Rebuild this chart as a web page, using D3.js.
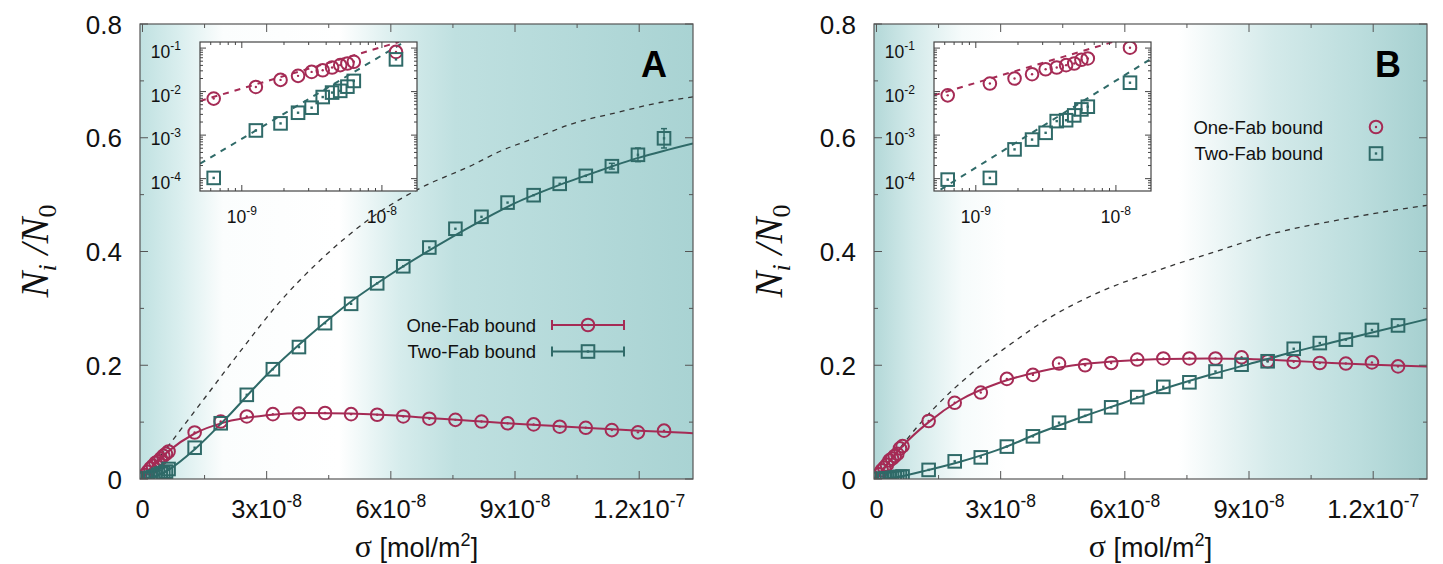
<!DOCTYPE html>
<html><head><meta charset="utf-8">
<script src="https://cdn.jsdelivr.net/npm/d3@7"></script>
<style>body{margin:0;background:#fff} svg{display:block}</style>
</head><body>
<svg id="chart" width="1443" height="564"></svg>
<script>
// ---------------- DATA ----------------
const sigmaSmall = [0.63e-9, 1.26e-9, 1.89e-9, 2.52e-9, 3.15e-9, 3.78e-9, 4.41e-9, 5.04e-9, 5.67e-9, 6.30e-9];
const sigmaLarge = [12.6e-9, 18.9e-9, 25.2e-9, 31.5e-9, 37.8e-9, 44.1e-9, 50.4e-9, 56.7e-9, 63.0e-9, 69.3e-9,
                    75.6e-9, 81.9e-9, 88.2e-9, 94.5e-9, 100.8e-9, 107.1e-9, 113.4e-9, 119.7e-9, 126.0e-9];

const oneFabA = [0.0069, 0.0128, 0.0186, 0.0230, 0.0284, 0.0310, 0.0358, 0.0406, 0.0443, 0.0484,
                 0.0817, 0.101, 0.110, 0.114, 0.115, 0.116, 0.114, 0.113, 0.110, 0.106,
                 0.104, 0.101, 0.098, 0.096, 0.092, 0.090, 0.086, 0.082, 0.085];
const twoFabA = [1.04e-4, 1.28e-3, 1.86e-3, 3.27e-3, 4.27e-3, 7.5e-3, 9.5e-3, 1.04e-2, 1.30e-2, 1.76e-2,
                 0.055, 0.098, 0.148, 0.193, 0.232, 0.274, 0.308, 0.344, 0.374, 0.407,
                 0.440, 0.461, 0.486, 0.499, 0.519, 0.533, 0.550, 0.570, 0.599];
const twoFabAErr = [0,0,0,0,0,0,0,0,0,0,
                    0.002,0.002,0.002,0.003,0.003,0.003,0.003,0.003,0.003,0.003,
                    0.003,0.003,0.003,0.003,0.003,0.003,0.005,0.012,0.017];

const oneFabB = [0.0082, 0.0153, 0.0200, 0.0251, 0.0327, 0.0358, 0.0405, 0.0443, 0.0538, 0.0578,
                 0.102, 0.134, 0.152, 0.176, 0.183, 0.203, 0.200, 0.204, 0.210, 0.212,
                 0.212, 0.212, 0.214, 0.207, 0.206, 0.204, 0.203, 0.205, 0.198];
const twoFabB = [9.5e-5, 1.04e-4, 4.7e-4, 7.9e-4, 1.13e-3, 2.1e-3, 2.2e-3, 2.84e-3, 3.9e-3, 4.5e-3,
                 0.016, 0.031, 0.038, 0.057, 0.075, 0.099, 0.111, 0.126, 0.144, 0.162,
                 0.170, 0.189, 0.201, 0.207, 0.229, 0.239, 0.245, 0.262, 0.270];

// solid fit curves
const fitSigma = [0, 3e-9, 6.3e-9, 12.6e-9, 20e-9, 30e-9, 40e-9, 50e-9, 60e-9, 70e-9, 80e-9, 90e-9, 100e-9, 110e-9, 120e-9, 133e-9];
const fitOneA = [0, 0.027, 0.049, 0.080, 0.100, 0.112, 0.116, 0.115, 0.112, 0.107, 0.102, 0.097, 0.093, 0.089, 0.085, 0.0806];
const fitTwoA = [0, 0.004, 0.016, 0.052, 0.105, 0.183, 0.250, 0.310, 0.360, 0.405, 0.447, 0.485, 0.515, 0.541, 0.565, 0.590];
const fitOneB = [0, 0.030, 0.058, 0.100, 0.138, 0.170, 0.190, 0.202, 0.208, 0.211, 0.212, 0.211, 0.208, 0.204, 0.201, 0.198];
const fitTwoB = [0, 0.001, 0.005, 0.016, 0.030, 0.053, 0.083, 0.110, 0.135, 0.160, 0.182, 0.202, 0.222, 0.240, 0.258, 0.281];

// dashed reference curves (main panels)
const dashSigmaA = [0, 6e-9, 15e-9, 24e-9, 33e-9, 43e-9, 55e-9, 67e-9, 80e-9, 86e-9, 95e-9, 104e-9, 115e-9, 125e-9, 133e-9];
const dashValA   = [0, 0.056, 0.142, 0.228, 0.310, 0.385, 0.458, 0.511, 0.553, 0.575, 0.600, 0.625, 0.645, 0.662, 0.672];
const dashSigmaB = [0, 5e-9, 10e-9, 14e-9, 23e-9, 32e-9, 41e-9, 54e-9, 68e-9, 82e-9, 95e-9, 112e-9, 131e-9, 133e-9];
const dashValB   = [0, 0.048, 0.093, 0.125, 0.186, 0.235, 0.280, 0.329, 0.367, 0.400, 0.430, 0.456, 0.479, 0.481];

// dashed power-law fits in the insets (endpoints)
const insetFitSigmaA1 = [5.03e-10, 1.32e-8], insetFitValA1 = [0.0061, 0.138];
const insetFitSigmaA2 = [5.03e-10, 1.40e-8], insetFitValA2 = [2.2e-4, 0.130];
const insetFitSigmaB1 = [5.03e-10, 1.00e-8], insetFitValB1 = [0.0082, 0.145];
const insetFitSigmaB2 = [5.60e-10, 1.78e-8], insetFitValB2 = [5.6e-5, 0.0566];

// axes / labels
const xTicks = [0, 3e-8, 6e-8, 9e-8, 1.2e-7];
const xTickBase = ["0", "3x10", "6x10", "9x10", "1.2x10"];
const xTickExp  = ["", "-8", "-8", "-8", "-7"];
const yTicks = [0, 0.2, 0.4, 0.6, 0.8];
const yTickLabels = ["0", "0.2", "0.4", "0.6", "0.8"];
const insetXTicks = [1e-9, 1e-8];
const insetXExp = ["-9", "-8"];
const insetYTicks = [1e-4, 1e-3, 1e-2, 1e-1];
const insetYExp = ["-4", "-3", "-2", "-1"];
const seriesNames = ["One-Fab bound", "Two-Fab bound"];
const panelLabels = ["A", "B"];

// ---------------- STYLE ----------------
const RED = "#a52b55", TEAL = "#2f6a68", FRAME = "#555";
const svg = d3.select("#chart");
const defs = svg.append("defs");

function gradient(id, stops) {
  const g = defs.append("linearGradient").attr("id", id).attr("x1", 0).attr("x2", 1).attr("y1", 0).attr("y2", 0);
  stops.forEach(s => g.append("stop").attr("offset", s[0]).attr("stop-color", s[1]));
}
gradient("bgA", [[0, "#c0e1e1"], [0.07, "#d9eeee"], [0.15, "#fbfdfd"], [0.36, "#ffffff"], [0.47, "#d6ecec"], [0.57, "#bfe0e0"], [1, "#a9d3d3"]]);
gradient("bgB", [[0, "#b3d8d8"], [0.07, "#d3eaea"], [0.16, "#f6fbfb"], [0.24, "#ffffff"], [0.55, "#ffffff"], [0.72, "#d4eaea"], [0.88, "#bbdddd"], [1, "#a6d0d0"]]);

function supText(g, x, y, base, exp, size, supSize, anchor, supDy) {
  const t = g.append("text").attr("x", x).attr("y", y).attr("text-anchor", anchor)
    .attr("font-family", "Liberation Sans, Arial, sans-serif").attr("font-size", size).attr("fill", "#111");
  t.append("tspan").text(base);
  if (exp) t.append("tspan").attr("dy", supDy).attr("font-size", supSize).text(exp);
  return t;
}

function circleMarker(g, x, y, color) {
  g.append("circle").attr("cx", x).attr("cy", y).attr("r", 6.3).attr("fill", "none").attr("stroke", color).attr("stroke-width", 2);
  g.append("circle").attr("cx", x).attr("cy", y).attr("r", 1.2).attr("fill", color);
}
function squareMarker(g, x, y, color) {
  g.append("rect").attr("x", x - 6.3).attr("y", y - 6.3).attr("width", 12.6).attr("height", 12.6).attr("fill", "none").attr("stroke", color).attr("stroke-width", 2);
  g.append("rect").attr("x", x - 1.2).attr("y", y - 1.2).attr("width", 2.4).attr("height", 2.4).attr("fill", color);
}

function drawPanel(cfg) {
  const L = cfg.left, R = cfg.left + 553, T = 24, B = 479;
  const g = svg.append("g");
  const x = d3.scaleLinear().domain([-0.6e-9, 1.33e-7]).range([L, R]);
  const y = d3.scaleLinear().domain([0, 0.8]).range([B, T]);
  const clipId = "clip" + cfg.name;
  defs.append("clipPath").attr("id", clipId).append("rect").attr("x", L).attr("y", T).attr("width", R - L).attr("height", B - T);

  g.append("rect").attr("x", L).attr("y", T).attr("width", R - L).attr("height", B - T).attr("fill", `url(#${cfg.bg})`);

  const plot = g.append("g").attr("clip-path", `url(#${clipId})`);
  const line = d3.line().x(d => x(d[0])).y(d => y(d[1])).curve(d3.curveMonotoneX);
  // dashed curve
  plot.append("path").datum(cfg.dashS.map((s, i) => [s, cfg.dashV[i]])).attr("fill", "none")
    .attr("stroke", "#333").attr("stroke-width", 1.3).attr("stroke-dasharray", "5,5").attr("d", line);

  const sig = sigmaSmall.concat(sigmaLarge);
  const series = [
    {vals: cfg.one, fit: cfg.fitOne, err: null, color: RED, marker: circleMarker},
    {vals: cfg.two, fit: cfg.fitTwo, err: cfg.twoErr, color: TEAL, marker: squareMarker}
  ];
  series.forEach(s => {
    plot.append("path").datum(fitSigma.map((v, i) => [v, s.fit[i]])).attr("fill", "none")
      .attr("stroke", s.color).attr("stroke-width", 2).attr("d", line);
  });
  series.forEach(s => {
    sig.forEach((v, i) => {
      const e = s.err ? s.err[i] : 0;
      if (e > 0.004) {
        plot.append("line").attr("x1", x(v)).attr("x2", x(v)).attr("y1", y(s.vals[i] - e)).attr("y2", y(s.vals[i] + e))
          .attr("stroke", s.color).attr("stroke-width", 1.5);
        [s.vals[i] - e, s.vals[i] + e].forEach(yy => plot.append("line").attr("x1", x(v) - 3).attr("x2", x(v) + 3)
          .attr("y1", y(yy)).attr("y2", y(yy)).attr("stroke", s.color).attr("stroke-width", 1.5));
      }
      s.marker(plot, x(v), y(s.vals[i]), s.color);
    });
  });

  // frame + ticks
  const ax = g.append("g").attr("stroke", FRAME).attr("stroke-width", 1);
  d3.range(0, 1.33e-7, 1.5e-8).forEach((t, i) => {
    const len = i % 2 === 0 ? 8 : 4;
    ax.append("line").attr("x1", x(t)).attr("x2", x(t)).attr("y1", B).attr("y2", B - len);
    ax.append("line").attr("x1", x(t)).attr("x2", x(t)).attr("y1", T).attr("y2", T + len);
  });
  d3.range(0, 0.81, 0.1).forEach((t, i) => {
    const len = i % 2 === 0 ? 8 : 4;
    ax.append("line").attr("x1", L).attr("x2", L + len).attr("y1", y(t)).attr("y2", y(t));
    ax.append("line").attr("x1", R).attr("x2", R - len).attr("y1", y(t)).attr("y2", y(t));
  });
  g.append("rect").attr("x", L).attr("y", T).attr("width", R - L).attr("height", B - T)
    .attr("fill", "none").attr("stroke", FRAME).attr("stroke-width", 1.2);

  // tick labels
  xTicks.forEach((t, i) => supText(g, x(t), 518, xTickBase[i], xTickExp[i], 25.5, 17.5, "middle", -11));
  yTicks.forEach((t, i) => supText(g, L - 18, y(t) + 9.5, yTickLabels[i], "", 26, 17, "end", 0));

  // axis titles
  const xt = g.append("text").attr("x", (L + R) / 2).attr("y", 557).attr("text-anchor", "middle")
    .attr("font-family", "Liberation Sans, Arial, sans-serif").attr("font-size", 27).attr("fill", "#111");
  xt.append("tspan").attr("font-family", "Liberation Serif, serif").attr("font-size", 32).text("σ");
  xt.append("tspan").text(" [mol/m");
  xt.append("tspan").attr("dy", -11).attr("font-size", 18).text("2");
  xt.append("tspan").attr("dy", 11).text("]");

  const yt = g.append("text").attr("transform", `translate(${L - 92},251) rotate(-90)`).attr("text-anchor", "middle")
    .attr("font-family", "Liberation Serif, serif").attr("font-style", "italic").attr("font-size", 39).attr("fill", "#111");
  yt.append("tspan").text("N");
  yt.append("tspan").attr("dy", 8).attr("font-size", 26).text("i");
  yt.append("tspan").attr("dy", -8).text(" /N");
  yt.append("tspan").attr("dy", 8).attr("font-size", 26).attr("font-style", "normal").text("0");

  // ---------------- inset ----------------
  const iL = L + 60, iR = L + 277, iT = 42, iB = 191;
  const ix = d3.scaleLog().domain([5.03e-10, 1.78e-8]).range([iL, iR]);
  const iy = d3.scaleLog().domain([5.2e-5, 0.138]).range([iB, iT]);
  const ig = g.append("g");
  ig.append("rect").attr("x", iL).attr("y", iT).attr("width", iR - iL).attr("height", iB - iT).attr("fill", "#fff");
  const iclip = "iclip" + cfg.name;
  defs.append("clipPath").attr("id", iclip).append("rect").attr("x", iL).attr("y", iT).attr("width", iR - iL).attr("height", iB - iT);
  const ip = ig.append("g").attr("clip-path", `url(#${iclip})`);
  cfg.insetFits.forEach(f => {
    ip.append("path").datum(f.s.map((s, i) => [s, f.v[i]])).attr("fill", "none").attr("stroke", f.color).attr("stroke-width", 2)
      .attr("stroke-dasharray", "6,6").attr("d", d3.line().x(d => ix(d[0])).y(d => iy(d[1])));
  });
  const iSig = sigmaSmall.concat([sigmaLarge[0]]);
  iSig.forEach((s, i) => circleMarker(ip, ix(s), iy(cfg.one[i]), RED));
  iSig.forEach((s, i) => squareMarker(ip, ix(s), iy(cfg.two[i]), TEAL));
  const iax = ig.append("g").attr("stroke", "#444").attr("stroke-width", 1);
  ix.ticks().filter(t => t >= 5.03e-10 && t <= 1.78e-8).forEach(t => {
    const major = insetXTicks.some(m => Math.abs(m - t) / m < 1e-6);
    const len = major ? 6 : 3;
    iax.append("line").attr("x1", ix(t)).attr("x2", ix(t)).attr("y1", iB).attr("y2", iB - len);
    iax.append("line").attr("x1", ix(t)).attr("x2", ix(t)).attr("y1", iT).attr("y2", iT + len);
  });
  iy.ticks().filter(t => t >= 5.2e-5 && t <= 0.138).forEach(t => {
    const major = insetYTicks.some(m => Math.abs(m - t) / m < 1e-6);
    const len = major ? 6 : 3;
    iax.append("line").attr("x1", iL).attr("x2", iL + len).attr("y1", iy(t)).attr("y2", iy(t));
    iax.append("line").attr("x1", iR).attr("x2", iR - len).attr("y1", iy(t)).attr("y2", iy(t));
  });
  ig.append("rect").attr("x", iL).attr("y", iT).attr("width", iR - iL).attr("height", iB - iT)
    .attr("fill", "none").attr("stroke", "#444").attr("stroke-width", 1.2);
  insetXTicks.forEach((t, i) => supText(ig, ix(t), 223, "10", insetXExp[i], 17.5, 12, "middle", -8));
  insetYTicks.forEach((t, i) => supText(ig, iL - 19, iy(t) + 10, "10", insetYExp[i], 17.5, 12, "end", -8));

  // panel label
  g.append("text").attr("x", R - 26).attr("y", 77).attr("text-anchor", "end")
    .attr("font-family", "Liberation Sans, Arial, sans-serif").attr("font-weight", "bold").attr("font-size", 36)
    .attr("fill", "#000").text(cfg.label);

  // legend
  const lg = g.append("g");
  seriesNames.forEach((name, i) => {
    const ly = cfg.legend.y + i * 26.5;
    lg.append("text").attr("x", cfg.legend.textEnd).attr("y", ly + 6.5).attr("text-anchor", "end")
      .attr("font-family", "Liberation Sans, Arial, sans-serif").attr("font-size", 18.5).attr("fill", "#111").text(name);
    const col = i === 0 ? RED : TEAL;
    if (cfg.legend.lineKey) {
      const x1 = cfg.legend.keyX - 36, x2 = cfg.legend.keyX + 36;
      lg.append("line").attr("x1", x1).attr("x2", x2).attr("y1", ly).attr("y2", ly).attr("stroke", col).attr("stroke-width", 2);
      [x1, x2].forEach(xx => lg.append("line").attr("x1", xx).attr("x2", xx).attr("y1", ly - 5).attr("y2", ly + 5).attr("stroke", col).attr("stroke-width", 2));
    }
    (i === 0 ? circleMarker : squareMarker)(lg, cfg.legend.keyX, ly, col);
  });
}

drawPanel({name: "A", left: 140, bg: "bgA", label: panelLabels[0],
  one: oneFabA, two: twoFabA, twoErr: twoFabAErr, fitOne: fitOneA, fitTwo: fitTwoA,
  dashS: dashSigmaA, dashV: dashValA,
  insetFits: [{s: insetFitSigmaA1, v: insetFitValA1, color: RED}, {s: insetFitSigmaA2, v: insetFitValA2, color: TEAL}],
  legend: {y: 325, textEnd: 536, keyX: 588, lineKey: true}});
drawPanel({name: "B", left: 874, bg: "bgB", label: panelLabels[1],
  one: oneFabB, two: twoFabB, twoErr: null, fitOne: fitOneB, fitTwo: fitTwoB,
  dashS: dashSigmaB, dashV: dashValB,
  insetFits: [{s: insetFitSigmaB1, v: insetFitValB1, color: RED}, {s: insetFitSigmaB2, v: insetFitValB2, color: TEAL}],
  legend: {y: 127, textEnd: 1323, keyX: 1376, lineKey: false}});
</script>
</body></html>
